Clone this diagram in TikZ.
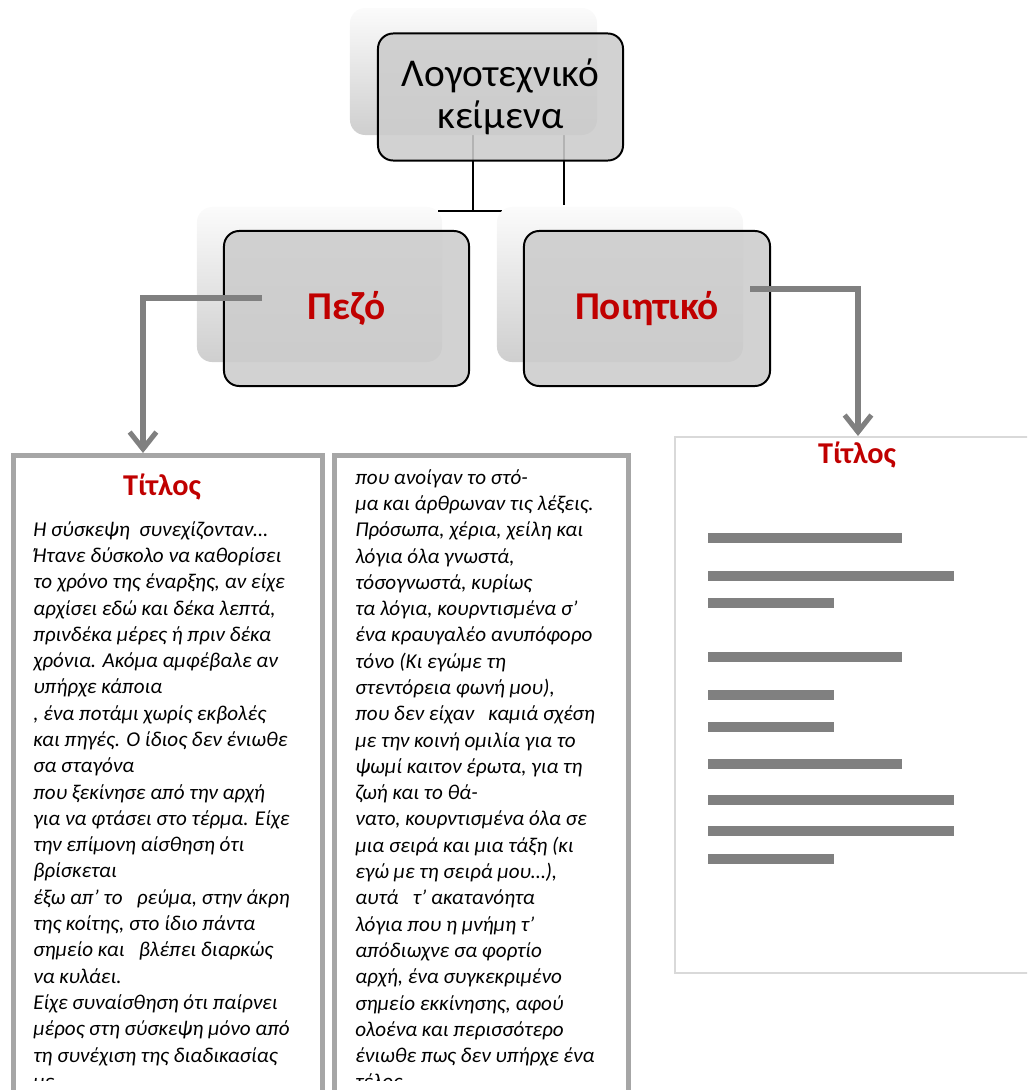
\documentclass[tikz,border=0pt]{standalone}
\usepackage{fontspec}
\setmainfont{Carlito}
\usetikzlibrary{arrows.meta}

\definecolor{boxgray}{HTML}{CCCCCC}
\definecolor{linkgray}{HTML}{808080}
\definecolor{framegray}{HTML}{A6A6A6}
\definecolor{pagegray}{HTML}{D9D9D9}
\definecolor{titlered}{HTML}{C00000}

\begin{document}
\begin{tikzpicture}[x=0.025cm, y=-0.025cm,
    backbox/.style={rectangle, rounded corners=0.38cm, top color=gray!3, bottom color=gray!38, inner sep=0pt},
    mainbox/.style={rectangle, rounded corners=0.38cm, draw=black, line width=1.4pt, fill=boxgray, fill opacity=0.88, text opacity=1, inner sep=0pt, align=center},
    treeline/.style={draw=black, line width=1.4pt},
    link/.style={draw=linkgray, line width=3.6pt, -{Straight Barb[length=12pt, width=19pt]}},
    textframe/.style={rectangle, draw=framegray, line width=3.6pt, inner sep=0pt, anchor=north west},
    bodytext/.style={anchor=north west, inner sep=0pt, align=left, font=\fontsize{15}{18.7}\selectfont\itshape},
    titletext/.style={inner sep=0pt, text=titlered, font=\fontsize{21.5}{25}\selectfont\bfseries},
    bar/.style={draw=linkgray, line width=7.8pt}]

    \clip (0,0) rectangle (1027,1090);

    % Tree lines under the top box
    \coordinate (littapleft) at (473,135);
    \coordinate (littapright) at (564,135);
    \coordinate (treejoin) at (473,211);
    \coordinate (treeleft) at (438,211);
    \coordinate (treeright) at (502,211);
    \coordinate (treedrop) at (564,205);
    \draw[treeline] (littapleft) -- (treejoin);
    \draw[treeline] (treeleft) -- (treeright);
    \draw[treeline] (littapright) -- (treedrop);

    % Top box
    \node[backbox, minimum width=6.175cm, minimum height=3.175cm] (litback) at (473.5,71.5) {};
    \node[mainbox, minimum width=6.125cm, minimum height=3.175cm,
          font=\fontsize{28}{29.5}\selectfont] (lit) at (500.5,97) {Λογοτεχνικό\\κείμενα};

    % Second level
    \node[backbox, minimum width=6.125cm, minimum height=3.875cm] (proseback) at (319.5,284.5) {};
    \node[mainbox, minimum width=6.125cm, minimum height=3.875cm, text=titlered,
          font=\fontsize{28}{32}\selectfont\bfseries] (prose) at (346.5,308.5) {Πεζό};
    \node[backbox, minimum width=6.15cm, minimum height=3.875cm] (poetryback) at (620,284.5) {};
    \node[mainbox, minimum width=6.15cm, minimum height=3.875cm, text=titlered,
          font=\fontsize{28}{32}\selectfont\bfseries] (poetry) at (647,308.5) {Ποιητικό};

    % Prose pages
    \node[textframe, minimum width=7.725cm, minimum height=16.5cm] (prosepage) at (11,453) {};
    \node[textframe, minimum width=7.35cm, minimum height=16.5cm] (prosenext) at (332,453) {};

    % Poetry page
    \node[textframe, draw=pagegray, line width=1.1pt, minimum width=9.3cm, minimum height=13.4cm] (poetrypage) at (674,436) {};

    % Connectors
    \coordinate (prosetap) at (262,298);
    \coordinate (prosein) at (143,453);
    \coordinate (poetrytap) at (750,289);
    \coordinate (poetryin) at (858,436);
    \draw[link] (prosetap) -| (prosein);
    \draw[link] (poetrytap) -| (poetryin);

    % Titles
    \node[titletext] (prosetitle) at (162,487) {Τίτλος};
    \node[titletext] (poetrytitle) at (857,455) {Τίτλος};

    % Text lines
    \begin{scope}
    \clip (0,0) rectangle (1027,1080);
    \node[bodytext] (prosetext) at (33,521) {%
        Η σύσκεψη\ \ συνεχίζονταν…\\
        Ήτανε δύσκολο να καθορίσει\\
        το χρόνο της έναρξης, αν είχε\\
        αρχίσει εδώ και δέκα λεπτά,\\
        πρινδέκα μέρες ή πριν δέκα\\
        χρόνια. Ακόμα αμφέβαλε αν\\
        υπήρχε κάποια\\
        , ένα ποτάμι χωρίς εκβολές\\
        και πηγές. Ο ίδιος δεν ένιωθε\\
        σα σταγόνα\\
        που ξεκίνησε από την αρχή\\
        για να φτάσει στο τέρμα. Είχε\\
        την επίμονη αίσθηση ότι\\
        βρίσκεται\\
        έξω απ’ το\ \ \ ρεύμα, στην άκρη\\
        της κοίτης, στο ίδιο πάντα\\
        σημείο και\ \ \ βλέπει διαρκώς\\
        να κυλάει.\\
        Είχε συναίσθηση ότι παίρνει\\
        μέρος στη σύσκεψη μόνο από\\
        τη συνέχιση της διαδικασίας\\
        με};
    \node[bodytext] (prosecont) at (355,469) {%
        που ανοίγαν το στό-\\
        μα και άρθρωναν τις λέξεις.\\
        Πρόσωπα, χέρια, χείλη και\\
        λόγια όλα γνωστά,\\
        τόσογνωστά, κυρίως\\
        τα λόγια, κουρντισμένα σ’\\
        ένα κραυγαλέο ανυπόφορο\\
        τόνο (Κι εγώμε τη\\
        στεντόρεια φωνή μου),\\
        που δεν είχαν\ \ \ καμιά σχέση\\
        με την κοινή ομιλία για το\\
        ψωμί καιτον έρωτα, για τη\\
        ζωή και το θά-\\
        νατο, κουρντισμένα όλα σε\\
        μια σειρά και μια τάξη (κι\\
        εγώ με τη σειρά μου…),\\
        αυτά\ \ \ τ’ ακατανόητα\\
        λόγια που η μνήμη τ’\\
        απόδιωχνε σα φορτίο\\
        αρχή, ένα συγκεκριμένο\\
        σημείο εκκίνησης, αφού\\
        ολοένα και περισσότερο\\
        ένιωθε πως δεν υπήρχε ένα\\
        τέλος};
    \end{scope}

    % Placeholder lines on the poetry page
    \foreach \y/\xend in {538/902, 576/954, 603/834, 657/902, 695/834,
                          727/834, 764/902, 800/954, 831/954, 859/834}
        \draw[bar] (708,\y) -- (\xend,\y);
\end{tikzpicture}
\end{document}
